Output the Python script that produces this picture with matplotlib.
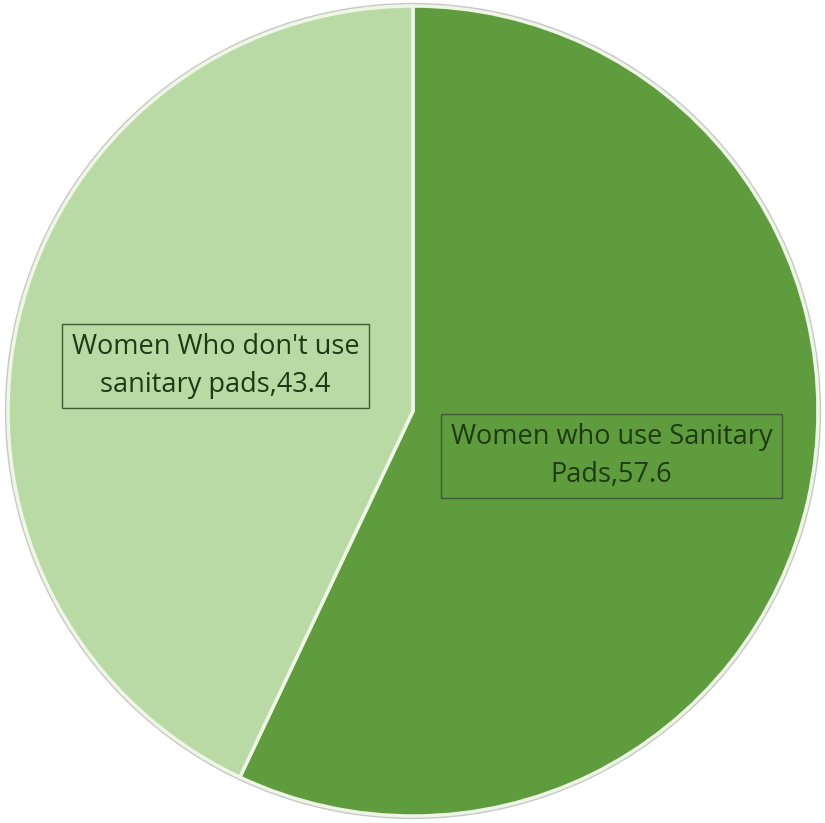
import matplotlib.pyplot as plt
from matplotlib.patches import Circle

# Data
labels = ['Women who use Sanitary\nPads,57.6', "Women Who don't use\nsanitary pads,43.4"]
values = [57.6, 43.4]
colors = ['#5f9c3d', '#b9d9a5']

fig = plt.figure(figsize=(8.25, 8.23), dpi=100)
ax = fig.add_axes([0, 0, 1, 1])

# soft grey shadow ring behind the pie
ax.add_patch(Circle((0, 0), 1.006, color='#c8c8c8', zorder=0))

wedges, _ = ax.pie(values, colors=colors, startangle=90, counterclock=False,
                   radius=1.0,
                   wedgeprops=dict(edgecolor='#eef7e6', linewidth=2.5))

# data labels inside boxes
label_pos = [(0.49, -0.111), (-0.488, 0.111)]
for (x, y), txt in zip(label_pos, labels):
    ax.text(x, y, txt, ha='center', va='center', fontsize=19.5,
            family='Open Sans', color='#1e3a12', linespacing=1.45,
            bbox=dict(boxstyle='square,pad=0.35', facecolor='none',
                      edgecolor='#3e5a32', linewidth=1.0))

ax.set_xlim(-413 / 405, 412 / 405)
ax.set_ylim(-412 / 405, 411 / 405)
ax.set_aspect('equal')
ax.axis('off')

plt.savefig('out.png', dpi=100)
